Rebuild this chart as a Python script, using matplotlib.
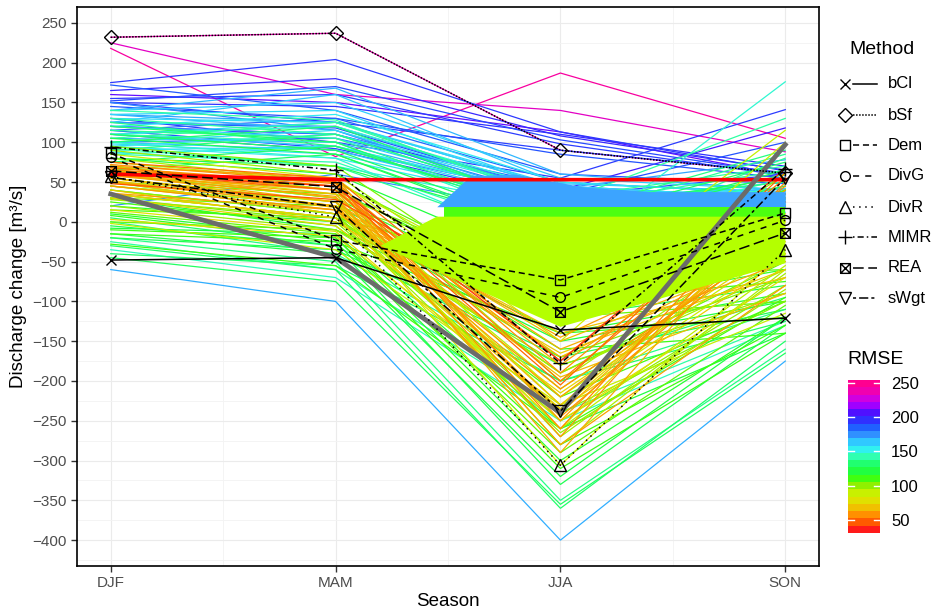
import numpy as np
import matplotlib
matplotlib.use("Agg")
import matplotlib.pyplot as plt
from matplotlib.colors import LinearSegmentedColormap, Normalize
from matplotlib.lines import Line2D
from matplotlib.path import Path
import matplotlib.cm as cm

plt.rcParams['font.family'] = ['Liberation Sans', 'DejaVu Sans']

# ---------------- data ----------------
seasons = ["DJF", "MAM", "JJA", "SON"]
season_pos = [1, 2, 3, 4]

# ensemble members: seasonal discharge change and RMSE
ens_djf = [175, 165, 152, 155, 150, 145, 172, 130, 120, 150, 160, 115, 110,
           218, 225, 232,
           140, 135, 125, 120, 105, 150, 100, 95, -60, 20, 115, 100,
           100, 130, 125, 120, 110, 105, 92, 85, 80, -30, -20, -5, 10, -35, -25, 0, 5, 30, 20, 45, 60, 70, 40, 25, -10, 50, 35,
           75, 55, 60, 50, 45, 40, 30, 65, 70, 55, 80, 35, 20, 45, 85, 90, 95,
           62, 58, 65, 70, 60, 55, 50, 45, 68, 72, 66, 64, 60, 55, 50, 75, 58, 62, 68, 52, 40, 35, 30,
           -45, -15, 12, 28, 8, -2, 15, 110, 88, 98, 125, 135, 140, 60, 48, 36, 3, -28,
           130, 120, 110, 95, 140, 85, 125, 135,
           105, 90, 75, 110, 65, 100, 80, 115,
           60, 50, 30, 15, 0, -15,
           -20, -40, -8,
           110, 100, 120, 90]
ens_mam = [204, 180, 170, 160, 145, 130, 140, 100, 110, 125, 150, 92, 90,
           82, 160, 237,
           168, 140, 120, 110, 100, 115, 90, 80, -100, 60, 130, 105,
           80, 110, 95, 100, 90, 85, 70, 75, 60, -60, -50, -30, -20, -70, -60, -40, -30, -10, 0, 20, 30, 40, 10, -5, -20, 10, 5,
           50, 20, 30, 25, 15, 10, 0, 35, 40, 25, 50, 5, -10, 20, 55, 60, 70,
           45, 40, 50, 55, 35, 25, 20, 15, 45, 50, 40, 30, 25, 20, 10, 55, 32, 40, 48, 18, 0, 5, -5,
           -75, -40, -15, 5, -25, -35, -12, 95, 70, 85, 118, 125, 128, 45, 28, 15, -18, -55,
           125, 135, 120, 110, 150, 95, 160, 115,
           125, 110, 95, 100, 85, 120, 70, 105,
           50, 35, 20, 5, -10, -25,
           -35, -55, -15,
           125, 115, 105, 95]
ens_jja = [113, 108, 103, 98, 110, 85, 60, 55, 40, 90, 113, 32, 25,
           187, 140, 90,
           60, 40, 35, 30, 28, 20, 20, 18, -400, 10, 50, 45,
           -37, 20, 10, 0, -10, -20, -30, -20, -60, -360, -350, -330, -300, -250, -240, -200, -180, -150, -140, -120, -110, -100, -160, -220, -280, -190, -170,
           -100, -306, -280, -270, -260, -250, -240, -230, -220, -210, -200, -190, -180, -260, -150, -130, -120,
           -270, -290, -260, -250, -240, -230, -220, -210, -200, -190, -180, -170, -160, -150, -140, -175, -280, -205, -245, -195, -165, -235, -215,
           -355, -320, -290, -265, -310, -230, -250, 30, 15, 22, 35, 42, 25, -175, -125, -145, -235, -260,
           45, 50, 38, 35, 55, 30, 48, 25,
           30, 20, 10, -5, -15, 15, -10, 5,
           -90, -80, -60, -70, -120, -140,
           -170, -200, -260,
           42, 35, 28, 24]
ens_son = [64, 65, 60, 58, 70, 55, 48, 141, 118, 62, 58, 60, 30,
           105, 88, 61,
           40, 35, 28, 30, 25, 22, 20, 30, -175, 20, 35, 30,
           176, 65, 90, 75, 60, 45, 80, 55, 40, -150, -160, -130, -120, -130, -125, -110, -95, -100, -90, -80, -60, -75, -140, -100, -130, -50, -70,
           115, -35, -60, -65, -55, -80, -100, -40, -30, -20, -10, -60, -90, 20, 100, 60, 40,
           40, 30, 50, 25, 10, 0, -10, -20, 35, 45, 20, -30, -50, -40, -70, 55, -80, 62, -5, -90, -60, -45, -25,
           -165, -120, -105, -85, -140, -115, -70, 42, 12, 50, 100, 78, 130, 67, 25, -15, 5, -95,
           30, 35, 25, 28, 40, 22, 38, 18,
           70, 50, 35, 45, 30, 55, 65, 85,
           -20, -10, -40, -60, -100, -120,
           -110, -125, -140,
           30, 25, 22, 20]
ens_rmse = [196, 200, 192, 195, 198, 190, 188, 195, 205, 194, 212, 192, 190,
            248, 238, 242,
            168, 160, 175, 180, 170, 178, 165, 155, 170, 175, 185, 182,
            148, 140, 135, 130, 128, 125, 138, 142, 120, 130, 135, 125, 118, 145, 140, 135, 130, 120, 118, 122, 115, 110, 112, 108, 110, 105, 100,
            88, 82, 92, 95, 90, 98, 100, 85, 88, 90, 92, 95, 97, 80, 85, 95, 100,
            55, 60, 52, 58, 62, 65, 58, 55, 50, 53, 57, 62, 60, 63, 66, 48, 58, 45, 54, 64, 68, 70, 72,
            128, 122, 105, 96, 112, 88, 76, 165, 150, 158, 190, 172, 140, 36, 42, 58, 74, 110,
            160, 155, 150, 158, 163, 152, 166, 170,
            140, 135, 130, 145, 128, 132, 125, 138,
            105, 100, 102, 108, 104, 112,
            125, 130, 120,
            162, 160, 163, 161]

# highlighted members
best_member = [60, 53, 53, 53]
mean_member = [35, -45, -240, 97]

# dense bands of overlapping members between MAM and SON
blue_band_x = [2.45, 2.6, 2.8, 3.1, 3.4, 4.0]
blue_band_hi = [19, 58, 60, 44, 38, 38]
blue_band_lo = [19, 19, 19, 19, 19, 19]
green_band_x = [2.48, 4.0]
green_band_hi = [19, 19]
green_band_lo = [6.5, 6.5]
lime_poly_x = [2.45, 4.0, 4.0, 3.0, 2.2]
lime_poly_y = [6.5, 6.5, -52, -132, -30]

# combination methods
methods = ["bCl", "bSf", "Dem", "DivG", "DivR", "MIMR", "REA", "sWgt"]
method_vals = {
    "bCl":  [-48, -45, -136, -121],
    "bSf":  [232, 237, 90, 61],
    "Dem":  [86, -23, -73, 11],
    "DivG": [81, -34, -95, 2],
    "DivR": [57, 6, -306, -35],
    "MIMR": [94, 65, -178, 67],
    "REA":  [64, 44, -113, -14],
    "sWgt": [56, 19, -238, 55],
}

# RMSE colour scale
rmse_colors = ["#ff1a1a", "#ff5a00", "#ff9000", "#f0c000", "#e0e000", "#c8f000",
               "#90f000", "#40ff10", "#20ff40", "#20ff70", "#30ffb0", "#30f0f0",
               "#30c8ff", "#3090ff", "#2060ff", "#3030ff", "#5010ff", "#a000ff",
               "#d000e0", "#f000b0", "#ff0090"]
rmse_lim = [31, 254]
rmse_ticks = [50, 100, 150, 200, 250]

# ---------------- plot ----------------
cmap = LinearSegmentedColormap.from_list("rmse", rmse_colors)
norm = Normalize(vmin=rmse_lim[0], vmax=rmse_lim[1])

fig = plt.figure(figsize=(9.37, 6.12), dpi=100)
ax = fig.add_axes([77 / 937, 46 / 612, (819 - 77) / 937, (566 - 7) / 612])

order = np.argsort(ens_rmse)[::-1]
for i in order:
    ax.plot(season_pos, [ens_djf[i], ens_mam[i], ens_jja[i], ens_son[i]],
            color=cmap(norm(ens_rmse[i])), lw=0.9, zorder=2, solid_joinstyle='miter')

ax.fill_between(blue_band_x, blue_band_lo, blue_band_hi, color="#3ca4ff", lw=0, zorder=2.5)
ax.fill_between(green_band_x, green_band_lo, green_band_hi, color="#4cff10", lw=0, zorder=3)
ax.fill(lime_poly_x, lime_poly_y, color="#b4ff00", lw=0, zorder=3)

ax.plot(season_pos, best_member, color="#ff0000", lw=2.6, zorder=4)
ax.plot(season_pos, mean_member, color="#6b6b6b", lw=3.4, zorder=4)

rea_marker = Path([(-1, -1), (1, -1), (1, 1), (-1, 1), (-1, -1),
                   (-1, -1), (1, 1), (-1, 1), (1, -1)],
                  [Path.MOVETO, Path.LINETO, Path.LINETO, Path.LINETO, Path.CLOSEPOLY,
                   Path.MOVETO, Path.LINETO, Path.MOVETO, Path.LINETO])

styles = {
    "bCl":  dict(marker="x", ls="-", ms=7),
    "bSf":  dict(marker="D", ls=(0, (1, 1)), ms=7),
    "Dem":  dict(marker="s", ls=(0, (4, 2.5)), ms=7),
    "DivG": dict(marker="o", ls=(0, (4, 4)), ms=7),
    "DivR": dict(marker="^", ls=(0, (1, 3)), ms=8),
    "MIMR": dict(marker="+", ls=(0, (1, 2, 4, 2)), ms=10),
    "REA":  dict(marker=rea_marker, ls=(0, (7, 3)), ms=7),
    "sWgt": dict(marker="v", ls=(0, (2, 2, 6, 2)), ms=8),
}
for m in methods:
    st = styles[m]
    ax.plot(season_pos, method_vals[m], color="black", lw=1.1, ls=st["ls"],
            marker=st["marker"], ms=st["ms"], mfc="none", mec="black", mew=1.0, zorder=5)

ax.set_xlim(0.85, 4.15)
ax.set_ylim(-432.5, 270)
ax.set_xticks(season_pos)
ax.set_xticklabels(seasons)
ax.set_xticks([1.5, 2.5, 3.5], minor=True)
ax.set_yticks(np.arange(-400, 251, 50))
ax.set_yticks(np.arange(-425, 270, 50), minor=True)
ax.grid(True, which="major", color="#ebebeb", lw=0.8, zorder=0)
ax.grid(True, which="minor", color="#f3f3f3", lw=0.6, zorder=0)
ax.set_axisbelow(True)
ax.tick_params(axis="both", which="major", length=4, width=1.0, color="#333333",
               labelcolor="#4d4d4d", labelsize=11)
ax.tick_params(axis="both", which="minor", length=0)
for s in ax.spines.values():
    s.set_linewidth(1.2)
    s.set_color("black")
ax.set_xlabel("Season", fontsize=13.5, labelpad=2)
ax.set_ylabel("Discharge change [m³/s]", fontsize=13.5, labelpad=4)

# ---- Method legend (drawn manually) ----
W, H = 937, 612
def fx(x):
    return x / W
def fy(y):
    return 1 - y / H

fig.text(fx(882), fy(50), "Method", fontsize=14, ha="center", va="center")
leg_y = [84, 115, 145, 176, 207, 237, 268, 298]
for m, yy in zip(methods, leg_y):
    st = styles[m]
    fig.add_artist(Line2D([fx(853), fx(877)], [fy(yy), fy(yy)], transform=fig.transFigure,
                          color="black", lw=1.1, ls=st["ls"]))
    fig.add_artist(Line2D([fx(845)], [fy(yy)], transform=fig.transFigure, ls="none",
                          marker=st["marker"], ms=st["ms"], mfc="none", mec="black", mew=1.0))
    fig.text(fx(888), fy(yy), m, fontsize=12, ha="left", va="center")

# ---- RMSE colourbar ----
fig.text(fx(847), fy(360), "RMSE", fontsize=14, ha="left", va="center")
cax = fig.add_axes([fx(848), fy(533), fx(880) - fx(848), (533 - 380) / H])
sm = cm.ScalarMappable(norm=norm, cmap=cmap.resampled(21))
cb = fig.colorbar(sm, cax=cax, ticks=rmse_ticks)
cb.outline.set_visible(False)
cb.ax.tick_params(length=0, labelsize=12, labelcolor="black", pad=8)
for t in rmse_ticks:
    cax.plot([0, 0.2], [t, t], color="white", lw=1.0, transform=cax.get_yaxis_transform())
    cax.plot([0.8, 1.0], [t, t], color="white", lw=1.0, transform=cax.get_yaxis_transform())

fig.savefig("out.png", dpi=100)
